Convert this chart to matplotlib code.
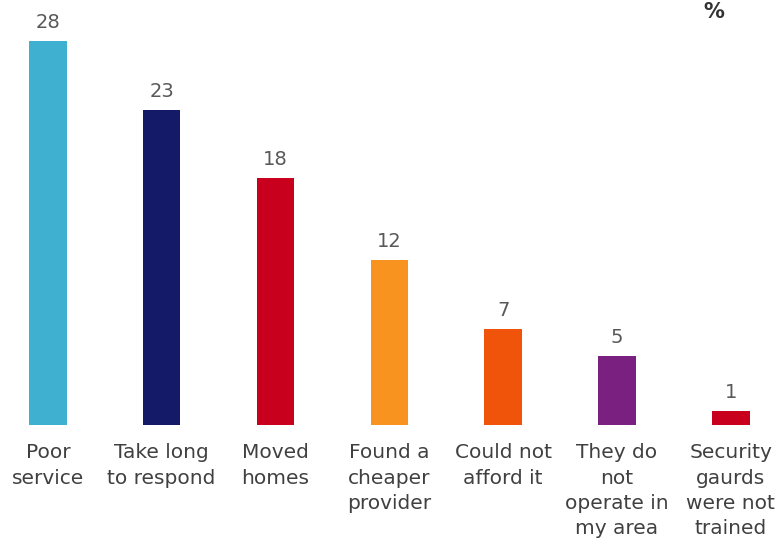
import matplotlib
matplotlib.use("Agg")
import matplotlib.pyplot as plt
plt.rcParams["font.family"] = ["DejaVu Sans"]

categories = ["Poor\nservice", "Take long\nto respond", "Moved\nhomes", "Found a\ncheaper\nprovider",
              "Could not\nafford it", "They do\nnot\noperate in\nmy area", "Security\ngaurds\nwere not\ntrained"]
values = [28, 23, 18, 12, 7, 5, 1]
colors = ["#3FB0CF", "#141A68", "#C8001E", "#F7931E", "#F0530A", "#7A2080", "#C8001E"]

fig = plt.figure(figsize=(7.81, 5.39), dpi=100)
ax = fig.add_axes([0, (539-425)/539, 1, 425/539])
x = list(range(len(values)))
ax.bar(x, values, width=0.33, color=colors)
ax.set_xlim(-0.42, 6.44)
ax.set_ylim(0, 31.0)
for s in ax.spines.values():
    s.set_visible(False)
ax.set_xticks([])
ax.set_yticks([])

for xi, v in zip(x, values):
    ax.annotate(str(v), (xi, v), xytext=(0, 6.5), textcoords="offset points",
                ha="center", va="bottom", fontsize=14, color="#595959")
for xi, lab in zip(x, categories):
    ax.annotate(lab, (xi, 0), xytext=(0, -13), textcoords="offset points",
                ha="center", va="top", fontsize=14.5, color="#404040",
                linespacing=1.43, annotation_clip=False)

fig.text(714/781, 1 - 12/539, "%", ha="center", va="center", fontsize=15,
         fontweight="bold", color="#333333")
fig.savefig("out.png", dpi=100)
